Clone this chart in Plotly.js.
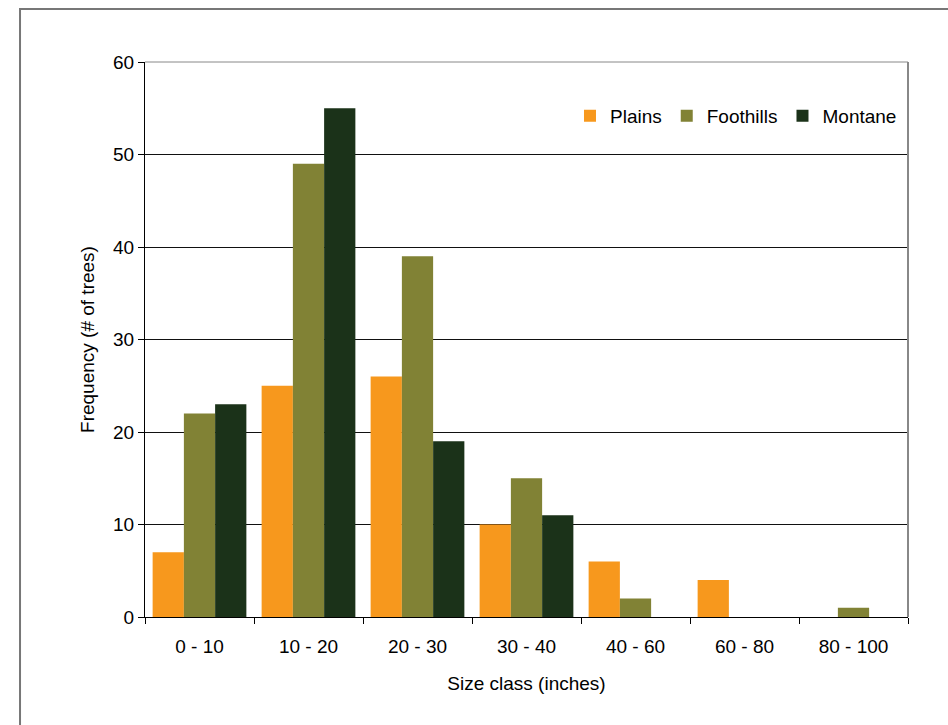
<!DOCTYPE html>
<html>
<head>
<meta charset="utf-8">
<script src="https://cdn.plot.ly/plotly-3.0.1.min.js"></script>
<style>html,body{margin:0;padding:0;background:#fff;}#chart{width:948px;height:725px;}</style>
</head>
<body>
<div id="chart"></div>
<script>
var categories = ["0 - 10", "10 - 20", "20 - 30", "30 - 40", "40 - 60", "60 - 80", "80 - 100"];
var plains = [7, 25, 26, 10, 6, 4, 0];
var foothills = [22, 49, 39, 15, 2, 0, 1];
var montane = [23, 55, 19, 11, 0, 0, 0];
var seriesNames = ["Plains", "Foothills", "Montane"];
var yTicks = [0, 10, 20, 30, 40, 50, 60];

var colors = ["#F7981D", "#818235", "#1B3219"];
var seriesData = [plains, foothills, montane];
var traces = seriesData.map(function (vals, i) {
  return {
    type: "bar",
    name: seriesNames[i],
    x: categories,
    y: vals,
    marker: {color: colors[i], line: {width: 0}},
    hoverinfo: "x+y+name"
  };
});

var font = {family: "Liberation Sans, Arial, sans-serif", size: 19, color: "#000"};
var layout = {
  width: 948, height: 725,
  margin: {l: 145, r: 40, t: 62, b: 108},
  paper_bgcolor: "#fff", plot_bgcolor: "#fff",
  font: font,
  barmode: "group",
  bargap: 0.14,
  bargroupgap: 0,
  showlegend: true,
  legend: {orientation: "h", x: 0.557, y: 0.903, xanchor: "left", yanchor: "middle",
           font: font, bgcolor: "rgba(0,0,0,0)", itemwidth: 30, tracegroupgap: 0},
  xaxis: {
    type: "category",
    tickson: "boundaries",
    ticks: "outside", ticklen: 6, tickcolor: "#000", tickwidth: 1,
    showline: true, linecolor: "#000", linewidth: 1,
    showgrid: false, zeroline: false,
    tickfont: font,
    ticklabelstandoff: 12,
    title: {text: "Size class (inches)", font: font, standoff: 20}
  },
  yaxis: {
    range: [0, 60],
    tickvals: yTicks,
    ticks: "outside", ticklen: 6, tickcolor: "#000", tickwidth: 1,
    showline: true, linecolor: "#000", linewidth: 1,
    showgrid: true, gridcolor: "#111", gridwidth: 1,
    zeroline: false,
    tickfont: font,
    title: {text: "Frequency (# of trees)", font: font, standoff: 13}
  },
  shapes: [
    {type: "line", xref: "paper", yref: "paper", x0: 0, x1: 1, y0: 1, y1: 1, line: {color: "#888", width: 1}},
    {type: "line", xref: "paper", yref: "paper", x0: 1, x1: 1, y0: 0, y1: 1, line: {color: "#888", width: 2}},
    {type: "rect", xref: "paper", yref: "paper", x0: -0.1638, x1: 1.08, y0: -0.23, y1: 1.0955,
     line: {color: "#777", width: 2}, fillcolor: "rgba(0,0,0,0)", layer: "below"}
  ]
};

Plotly.newPlot("chart", traces, layout, {displayModeBar: false, staticPlot: true});
</script>
</body>
</html>
